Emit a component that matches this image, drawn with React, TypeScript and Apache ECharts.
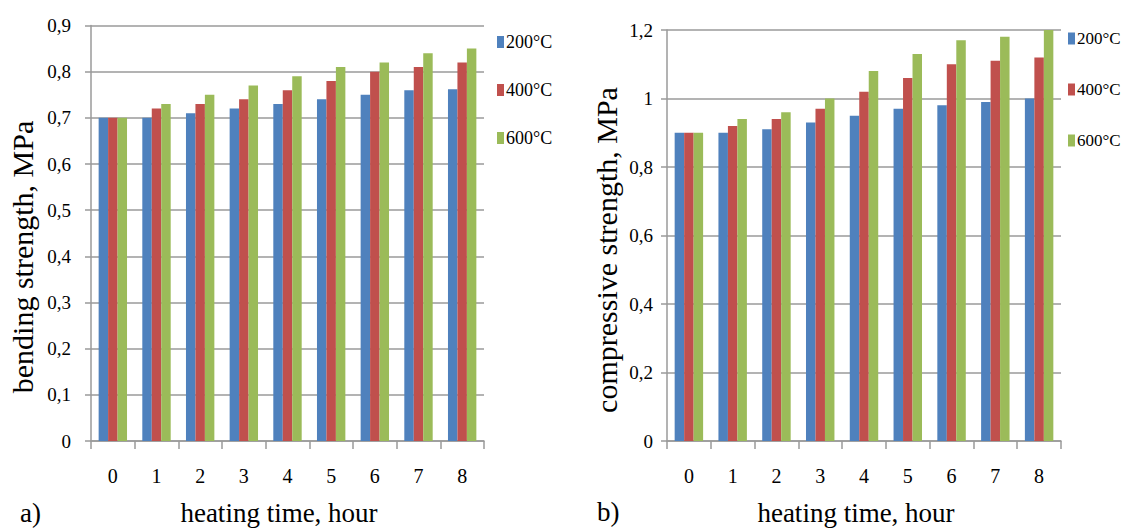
import React, { useEffect, useRef } from "react";
import * as echarts from "echarts";

const hours = ["0", "1", "2", "3", "4", "5", "6", "7", "8"];
const seriesNames = ["200°C", "400°C", "600°C"];
const colors = ["#4F81BD", "#C0504D", "#9BBB59"];

const bend200 = [0.70, 0.70, 0.71, 0.72, 0.73, 0.74, 0.75, 0.76, 0.762];
const bend400 = [0.70, 0.72, 0.73, 0.74, 0.76, 0.78, 0.80, 0.81, 0.82];
const bend600 = [0.70, 0.73, 0.75, 0.77, 0.79, 0.81, 0.82, 0.84, 0.85];

const comp200 = [0.90, 0.90, 0.91, 0.93, 0.95, 0.97, 0.98, 0.99, 1.00];
const comp400 = [0.90, 0.92, 0.94, 0.97, 1.02, 1.06, 1.10, 1.11, 1.12];
const comp600 = [0.90, 0.94, 0.96, 1.00, 1.08, 1.13, 1.17, 1.18, 1.20];

const leftYTitle = "bending strength, MPa";
const rightYTitle = "compressive strength, MPa";
const xTitle = "heating time, hour";

const FONT = "'Liberation Serif', 'Times New Roman', serif";
const GRAY = "#9a9a9a";

function fmt(v: number) {
  return String(+v.toFixed(1)).replace(".", ",");
}

export default function App() {
  const ref = useRef<HTMLDivElement>(null);

  useEffect(() => {
    if (!ref.current) return;
    const chart = echarts.init(ref.current, undefined, { renderer: "svg" });

    const xAxisBase = {
      type: "category" as const,
      data: hours,
      boundaryGap: true,
      axisLine: { show: true, lineStyle: { color: GRAY, width: 1.5 } },
      axisTick: { show: true, length: 8, lineStyle: { color: GRAY, width: 1.5 } },
      axisLabel: { color: "#000", fontFamily: FONT, fontSize: 20, margin: 25 },
      splitLine: { show: false },
    };
    const yAxisBase = {
      type: "value" as const,
      min: 0,
      axisLine: { show: true, lineStyle: { color: GRAY, width: 1.5 } },
      axisTick: { show: true, length: 6, lineStyle: { color: GRAY, width: 1.5 } },
      splitLine: { show: true, lineStyle: { color: GRAY, width: 1.5 } },
    };

    const mk = (name: string, data: number[], idx: number, i: number) => ({
      name,
      type: "bar" as const,
      xAxisIndex: idx,
      yAxisIndex: idx,
      data,
      barGap: "0%",
      barCategoryGap: "35%",
      itemStyle: { color: colors[i] },
    });

    const legendBase = {
      orient: "vertical" as const,
      icon: "rect",
      itemWidth: 7,
      itemHeight: 12,
      data: seriesNames,
      selectedMode: false,
    };

    chart.setOption({
      animation: false,
      backgroundColor: "#fff",
      color: colors,
      grid: [
        { left: 91, top: 25.5, width: 393, height: 415.5 },
        { left: 667, top: 30, width: 394, height: 411 },
      ],
      xAxis: [
        { ...xAxisBase, gridIndex: 0 },
        { ...xAxisBase, gridIndex: 1 },
      ],
      yAxis: [
        {
          ...yAxisBase,
          gridIndex: 0,
          max: 0.9,
          interval: 0.1,
          axisLabel: { color: "#000", fontFamily: FONT, fontSize: 19, margin: 20, formatter: fmt },
        },
        {
          ...yAxisBase,
          gridIndex: 1,
          max: 1.2,
          interval: 0.2,
          axisLabel: { color: "#000", fontFamily: FONT, fontSize: 19, margin: 14, formatter: fmt },
        },
      ],
      legend: [
        {
          ...legendBase,
          left: 492,
          top: 28,
          itemGap: 30,
          textStyle: { fontFamily: FONT, fontSize: 18, color: "#000", padding: [0, 0, 0, -3] },
        },
        {
          ...legendBase,
          left: 1063,
          top: 25,
          itemGap: 34,
          textStyle: { fontFamily: FONT, fontSize: 17, color: "#000", padding: [0, 0, 0, -3] },
        },
      ],
      series: [
        mk(seriesNames[0], bend200, 0, 0),
        mk(seriesNames[1], bend400, 0, 1),
        mk(seriesNames[2], bend600, 0, 2),
        mk(seriesNames[0], comp200, 1, 0),
        mk(seriesNames[1], comp400, 1, 1),
        mk(seriesNames[2], comp600, 1, 2),
      ],
      graphic: [
        {
          type: "text",
          x: 22,
          y: 257,
          rotation: Math.PI / 2,
          style: { text: leftYTitle, fontFamily: FONT, fontSize: 30, fill: "#000", align: "center", verticalAlign: "middle" },
        },
        {
          type: "text",
          x: 606,
          y: 250,
          rotation: Math.PI / 2,
          style: { text: rightYTitle, fontFamily: FONT, fontSize: 30, fill: "#000", align: "center", verticalAlign: "middle" },
        },
        {
          type: "text",
          x: 279,
          y: 513,
          style: { text: xTitle, fontFamily: FONT, fontSize: 27, fill: "#000", align: "center", verticalAlign: "middle" },
        },
        {
          type: "text",
          x: 856,
          y: 513,
          style: { text: xTitle, fontFamily: FONT, fontSize: 27, fill: "#000", align: "center", verticalAlign: "middle" },
        },
        {
          type: "text",
          x: 20,
          y: 513,
          style: { text: "a)", fontFamily: FONT, fontSize: 27, fill: "#000", align: "left", verticalAlign: "middle" },
        },
        {
          type: "text",
          x: 597,
          y: 512,
          style: { text: "b)", fontFamily: FONT, fontSize: 27, fill: "#000", align: "left", verticalAlign: "middle" },
        },
      ],
    });

    return () => chart.dispose();
  }, []);

  return (
    <div
      ref={ref}
      style={{ position: "fixed", left: 0, top: 0, width: 1124, height: 529, background: "#fff" }}
    />
  );
}
